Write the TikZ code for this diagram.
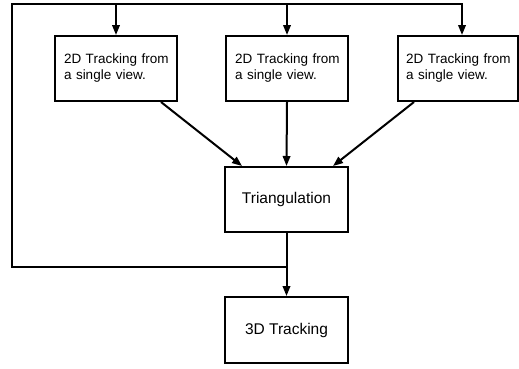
\documentclass[tikz,border=0pt]{standalone}
\usepackage{fontspec}
\setmainfont{Liberation Sans}
\usetikzlibrary{arrows.meta}
\newcommand{\twodtext}{\mbox{2D Tracking from}\\\mbox{a single view.}}
\begin{document}
\begin{tikzpicture}[x=1pt,y=-1pt,
  every path/.style={line width=2pt},
  flow/.style={line width=2pt,-{Triangle[length=10pt,width=7.5pt]}},
  viewbox/.style={draw,line width=2pt,rectangle,minimum height=65pt,align=left,
     text width=104pt,font=\fontsize{13.5}{16}\selectfont,inner ysep=0pt},
  mainbox/.style={draw,line width=2pt,rectangle,minimum width=123pt,
     font=\fontsize{15.5}{18}\selectfont}]
\useasboundingbox (0,0) rectangle (519,368);
\node[viewbox,inner xsep=9pt] (b1) at (116,68.5) {\twodtext};
\node[viewbox,inner xsep=9pt] (b2) at (287,68.5) {\twodtext};
\node[viewbox,inner xsep=8pt] (b3) at (458,68.5) {\twodtext};
\node[mainbox,minimum height=65pt] (tri) at (286.5,199.5) {Triangulation};
\node[mainbox,minimum height=66pt] (d3) at (286.5,330) {3D Tracking};
\coordinate (tl) at (12,4);
\coordinate (j) at (286.5,267);
\coordinate (b3in) at ([xshift=4pt]b3.north);
% top distribution
\draw[flow] (j) -| (tl) -| (b3in);
\draw[flow] (b1.north |- tl) -- (b1.north);
\draw[flow] (b2.north |- tl) -- (b2.north);
% into triangulation
\draw[flow] ([xshift=-17pt]b1.south east) -- ([xshift=18pt]tri.north west);
\draw[flow] (b2.south) -- (tri.north);
\draw[flow] ([xshift=17pt]b3.south west) -- ([xshift=-16pt]tri.north east);
% to 3D
\draw[flow] (tri.south) -- (d3.north);
\end{tikzpicture}
\end{document}
